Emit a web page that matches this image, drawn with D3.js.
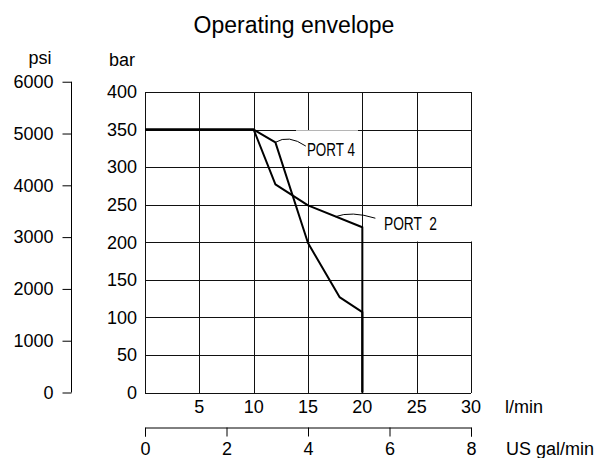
<!DOCTYPE html>
<html>
<head>
<meta charset="utf-8">
<script src="https://cdn.jsdelivr.net/npm/d3@7"></script>
<style>
  body { margin: 0; background: #fff; }
  svg { font-family: "Liberation Sans", Arial, sans-serif; }
</style>
</head>
<body>
<svg id="chart" width="599" height="458"></svg>
<script>
// flow in l/min, pressure in bar
var port4Flow = [0, 10, 12, 15, 17.9, 20, 20];
var port4Bar = [350, 350, 333, 199, 127, 107, 0];
var port2Flow = [0, 10, 12, 15, 20, 20];
var port2Bar = [350, 350, 277, 249, 220, 0];

var flowTicks = [5, 10, 15, 20, 25, 30];
var barTicks = [0, 50, 100, 150, 200, 250, 300, 350, 400];
var psiTicks = [0, 1000, 2000, 3000, 4000, 5000, 6000];
var galTicks = [0, 2, 4, 6, 8];

var BAR_PER_PSI = 1 / 14.5038;

var svg = d3.select("#chart");

/************************
 * scales
 ************************/
var x = d3.scaleLinear().domain([0, 30]).range([145, 471]);
var y = d3.scaleLinear().domain([0, 400]).range([392.5, 92]);
var yPsi = d3.scaleLinear()
    .domain([0, 6000])
    .range([y(0), y(6000 * BAR_PER_PSI)]);
var xGal = d3.scaleLinear().domain([0, 8]).range([145, 471]);

// title
svg.append("text")
    .attr("x", 294)
    .attr("y", 33)
    .attr("text-anchor", "middle")
    .style("font-size", "23px")
    .text("Operating envelope");

// grid
var grid = svg.append("g")
    .attr("stroke", "#111")
    .attr("stroke-width", 1)
    .attr("shape-rendering", "crispEdges");
grid.selectAll("line.h")
    .data(barTicks)
    .enter()
    .append("line")
    .attr("class", "h")
    .attr("x1", x(0))
    .attr("x2", x(30))
    .attr("y1", function(d) { return Math.round(y(d)) + 0.5; })
    .attr("y2", function(d) { return Math.round(y(d)) + 0.5; });
grid.selectAll("line.v")
    .data([0].concat(flowTicks))
    .enter()
    .append("line")
    .attr("class", "v")
    .attr("x1", function(d) { return Math.round(x(d)) + 0.5; })
    .attr("x2", function(d) { return Math.round(x(d)) + 0.5; })
    .attr("y1", y(0))
    .attr("y2", y(400));

// bar tick labels
svg.append("g")
    .selectAll("text")
    .data(barTicks)
    .enter()
    .append("text")
    .attr("x", 137)
    .attr("y", function(d) { return y(d); })
    .attr("dy", "0.35em")
    .attr("text-anchor", "end")
    .style("font-size", "18px")
    .text(function(d) { return d; });
svg.append("text")
    .attr("x", 122)
    .attr("y", 66)
    .attr("text-anchor", "middle")
    .style("font-size", "18px")
    .text("bar");

// psi axis
var psiAxis = svg.append("g").attr("transform", "translate(71.5,0)");
psiAxis.call(d3.axisLeft(yPsi)
    .tickValues(psiTicks)
    .tickFormat(d3.format("d"))
    .tickSize(9)
    .tickPadding(9));
psiAxis.select(".domain").attr("d", "M0," + yPsi(0) + "V" + yPsi(6000));
psiAxis.selectAll("text")
    .style("font-size", "18px")
    .style("font-family", "Liberation Sans, Arial, sans-serif")
    .attr("fill", "#000");
svg.append("text")
    .attr("x", 40)
    .attr("y", 64)
    .attr("text-anchor", "middle")
    .style("font-size", "18px")
    .text("psi");

// l/min labels
svg.append("g")
    .selectAll("text")
    .data(flowTicks)
    .enter()
    .append("text")
    .attr("x", function(d) { return x(d); })
    .attr("y", 413)
    .attr("text-anchor", "middle")
    .style("font-size", "18px")
    .text(function(d) { return d; });
svg.append("text")
    .attr("x", 505)
    .attr("y", 413)
    .style("font-size", "18px")
    .text("l/min");

// US gal/min axis
var galAxis = svg.append("g").attr("transform", "translate(0,427.5)");
galAxis.call(d3.axisBottom(xGal).tickValues(galTicks).tickSize(9).tickSizeOuter(9).tickPadding(6));
galAxis.selectAll("text")
    .style("font-size", "18px")
    .style("font-family", "Liberation Sans, Arial, sans-serif")
    .attr("fill", "#000");
svg.append("text")
    .attr("x", 506)
    .attr("y", 455)
    .style("font-size", "18px")
    .text("US gal/min");

// white boxes behind the curve labels
svg.append("rect")
    .attr("x", 296).attr("y", y(349))
    .attr("width", 62).attr("height", y(301) - y(349))
    .attr("fill", "#fff");
svg.append("rect")
    .attr("x", 378).attr("y", y(248))
    .attr("width", 96).attr("height", y(201) - y(248))
    .attr("fill", "#fff");

// curves
var line = d3.line()
    .x(function(d) { return x(d[0]); })
    .y(function(d) { return y(d[1]); });
var series = [
    d3.zip(port4Flow, port4Bar),
    d3.zip(port2Flow, port2Bar)
];
svg.append("g")
    .selectAll("path")
    .data(series)
    .enter()
    .append("path")
    .attr("d", line)
    .attr("fill", "none")
    .attr("stroke", "#000")
    .attr("stroke-width", 2)
    .attr("stroke-linejoin", "round");

// leaders + labels
var leader = svg.append("g").attr("fill", "none").attr("stroke", "#000").attr("stroke-width", 1);
leader.append("path")
    .attr("d", "M" + x(12) + "," + y(333) + "Q" + x(13.2) + "," + y(344) + " " + x(14.8) + "," + y(328));
leader.append("path")
    .attr("d", "M" + x(17.5) + "," + y(234) + "Q" + x(19) + "," + y(242) + " " + x(21.2) + "," + y(232));

svg.append("text")
    .attr("x", x(14.9))
    .attr("y", 155.5)
    .attr("textLength", 48)
    .attr("lengthAdjust", "spacingAndGlyphs")
    .style("font-size", "18px")
    .text("PORT 4");
svg.append("text")
    .attr("x", 384)
    .attr("y", 229.5)
    .attr("textLength", 53)
    .attr("lengthAdjust", "spacingAndGlyphs")
    .style("font-size", "18px")
    .style("white-space", "pre")
    .text("PORT  2");
</script>
</body>
</html>
